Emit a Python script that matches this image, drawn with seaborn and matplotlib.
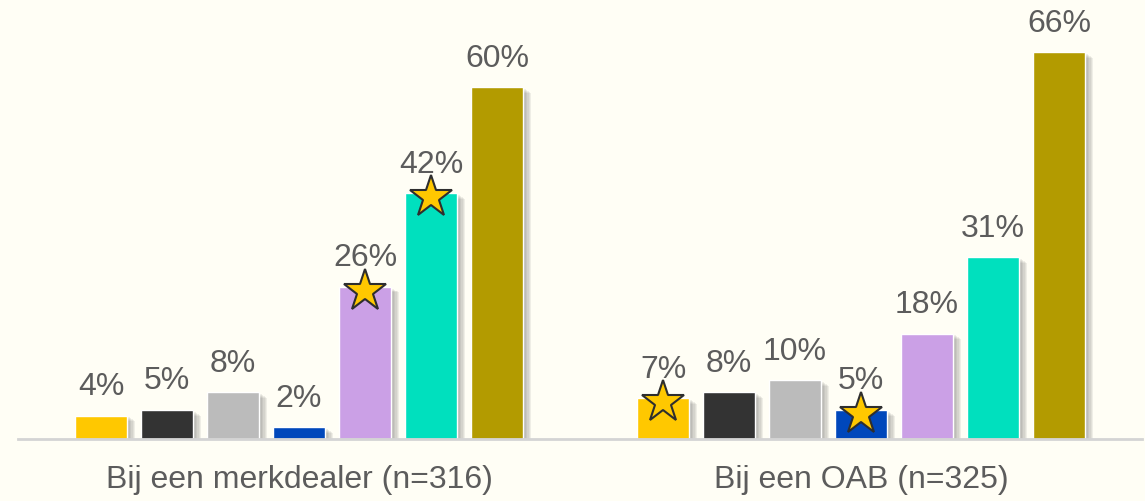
import pandas as pd
import numpy as np
import matplotlib
matplotlib.use("Agg")
import matplotlib.pyplot as plt
import matplotlib.patheffects as pe
import seaborn as sns

# Data
groups = ["Bij een merkdealer (n=316)", "Bij een OAB (n=325)"]
series = ["s1", "s2", "s3", "s4", "s5", "s6", "s7"]
values_dealer = [4, 5, 8, 2, 26, 42, 60]
values_oab = [7, 8, 10, 5, 18, 31, 66]
stars_dealer = [False, False, False, False, True, True, False]
stars_oab = [True, False, False, True, False, False, False]
colors = ["#FFC800", "#333333", "#BBBBBB", "#0047BB", "#CBA0E6", "#00E0BE", "#B39B00"]

bg = "#FFFEF5"
text_color = "#5C5C5C"

df = pd.DataFrame({
    "group": [groups[0]] * len(series) + [groups[1]] * len(series),
    "series": series * 2,
    "value": values_dealer + values_oab,
    "star": stars_dealer + stars_oab,
})

sns.set_theme(style="white")
plt.rcParams["font.family"] = ["Liberation Sans", "DejaVu Sans"]

fig = plt.figure(figsize=(11.45, 5.01), dpi=100, facecolor=bg)
ax = fig.add_axes([0.0157, 0.1238, 0.9817, 0.876])
ax.set_facecolor(bg)

sns.barplot(data=df, x="group", y="value", hue="series", hue_order=series,
            palette=colors, width=0.822, gap=0.21, errorbar=None,
            legend=False, saturation=1, ax=ax)

# soft drop shadow, faked with a few stacked offsets
shadow = [pe.SimplePatchShadow(offset=(o, -o * 0.7), shadow_rgbFace="#555555", alpha=0.09)
          for o in (6, 5, 4, 3, 2)] + [pe.Normal()]

for s, cont in zip(series, ax.containers):
    sub = df[df["series"] == s].set_index("group")
    for g, bar in zip(groups, cont):
        bar.set_path_effects(shadow)
        val = sub.loc[g, "value"]
        cx = bar.get_x() + bar.get_width() / 2
        top = bar.get_height()
        ax.annotate(f"{val}%", (cx, top), xytext=(0, 9.5), textcoords="offset points",
                    ha="center", va="bottom", fontsize=23, color=text_color)
        if sub.loc[g, "star"]:
            ax.plot(cx, top - 0.7, marker="*", markersize=32, color="#FFC800",
                    markeredgecolor="#2E2E2E", markeredgewidth=1.5, zorder=5)

ax.set_xlim(-0.5, 1.5)
ax.set_ylim(0, 74.9)
ax.set_xlabel("")
ax.set_ylabel("")
ax.set_yticks([])
ax.tick_params(axis="x", length=0, pad=19, labelsize=23, labelcolor=text_color)
for side in ["top", "right", "left"]:
    ax.spines[side].set_visible(False)
ax.spines["bottom"].set_color("#D4D4D4")
ax.spines["bottom"].set_linewidth(2)

fig.savefig("out.png", dpi=100, facecolor=bg)
